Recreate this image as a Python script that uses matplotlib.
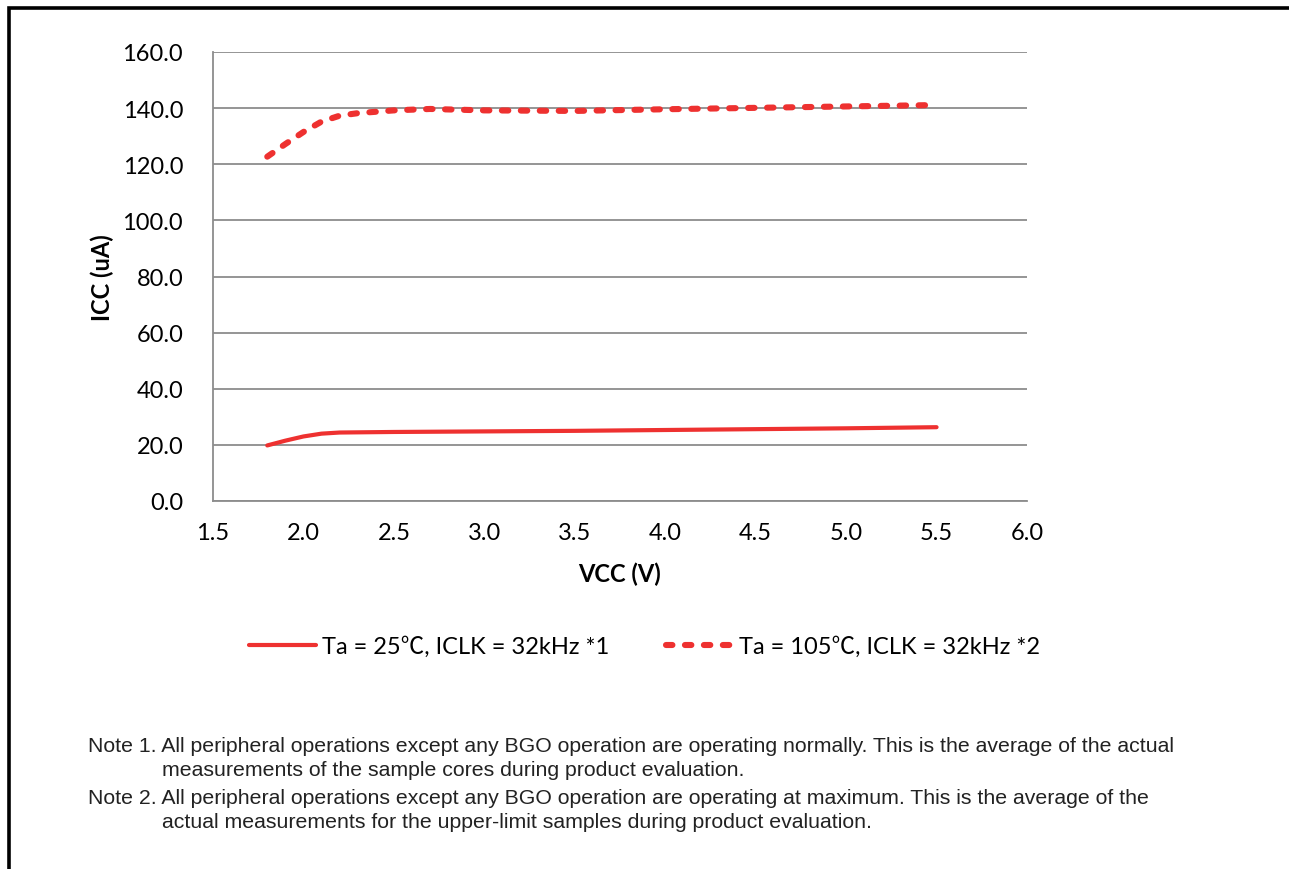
import matplotlib
matplotlib.use("Agg")
import matplotlib.pyplot as plt
from matplotlib.lines import Line2D

# Supply current vs. supply voltage
vcc_25 = [1.8, 1.9, 2.0, 2.1, 2.2, 2.5, 3.0, 3.5, 4.0, 4.5, 5.0, 5.5]
icc_25 = [19.8, 21.5, 23.0, 24.0, 24.4, 24.6, 24.8, 25.0, 25.3, 25.6, 25.9, 26.3]

vcc_105 = [1.8, 1.9, 2.0, 2.1, 2.2, 2.3, 2.5, 2.7, 3.0, 3.5, 4.0, 4.5, 5.0, 5.5]
icc_105 = [122.7, 127.2, 131.5, 135.2, 137.3, 138.2, 139.2, 139.7, 139.2, 139.0,
           139.6, 140.1, 140.6, 141.1]

label_25 = "Ta = 25\u2103, ICLK = 32kHz *1"
label_105 = "Ta = 105\u2103, ICLK = 32kHz *2"

x_ticks = [1.5, 2.0, 2.5, 3.0, 3.5, 4.0, 4.5, 5.0, 5.5, 6.0]
y_ticks = [0, 20, 40, 60, 80, 100, 120, 140, 160]

notes = [
    ("Note 1. All peripheral operations except any BGO operation are operating normally. This is the average of the actual",
     "measurements of the sample cores during product evaluation."),
    ("Note 2. All peripheral operations except any BGO operation are operating at maximum. This is the average of the",
     "actual measurements for the upper-limit samples during product evaluation."),
]

RED = "#EE3130"
GRID = "#8C8C8C"
UI_FONT = ["Lato", "Noto Sans CJK JP", "DejaVu Sans"]
NOTE_FONT = ["Liberation Sans", "DejaVu Sans"]

W, H = 1289, 870
fig = plt.figure(figsize=(W / 100, H / 100), dpi=100)
fig.patch.set_facecolor("white")

ax = fig.add_axes([213 / W, 1 - 502 / H, (1027 - 213) / W, (502 - 53) / H])
ax.plot(vcc_25, icc_25, color=RED, lw=3.0, solid_capstyle="round",
        solid_joinstyle="round", label=label_25)
ax.plot(vcc_105, icc_105, color=RED, lw=4.4, dashes=(1.05, 2.05),
        dash_capstyle="round", label=label_105)

ax.set_xlim(1.5, 6.0)
ax.set_ylim(0, 160)
ax.set_xticks(x_ticks)
ax.set_yticks(y_ticks)
ax.set_xticklabels([f"{v:.1f}" for v in x_ticks], family=UI_FONT, fontsize=17)
ax.set_yticklabels([f"{v:.1f}" for v in y_ticks], family=UI_FONT, fontsize=17)
ax.tick_params(axis="x", length=0, pad=15)
ax.tick_params(axis="y", length=0, pad=21.5)
ax.grid(axis="y", color=GRID, lw=1.3)
ax.set_axisbelow(True)
for side in ("top", "right"):
    ax.spines[side].set_visible(False)
for side in ("left", "bottom"):
    ax.spines[side].set_color(GRID)
    ax.spines[side].set_linewidth(1.3)

ax.set_xlabel("VCC (V)", family=UI_FONT, fontsize=17, fontweight="bold", labelpad=13.5)
ax.set_ylabel("ICC (uA)", family=UI_FONT, fontsize=17, fontweight="bold", labelpad=6)

leg = fig.legend(loc="center", bbox_to_anchor=(0.5, 1 - 647 / H), ncol=2,
                 frameon=False, prop={"family": UI_FONT, "size": 17},
                 handlelength=2.84, handletextpad=0.25, columnspacing=2.4)

# notes under the chart
y0 = 747
for first, second in notes:
    fig.text(88 / W, 1 - y0 / H, first, family=NOTE_FONT, fontsize=15.35, va="center",
             color="#222222")
    fig.text(162 / W, 1 - (y0 + 24) / H, second, family=NOTE_FONT, fontsize=15.35,
             va="center", color="#222222")
    y0 += 52

# outer frame (top and left edges)
bx, by = 8.5 / W, 1 - 8.5 / H
fig.add_artist(Line2D([bx, bx, 1.0], [0.0, by, by], transform=fig.transFigure,
                      color="black", lw=2.6, solid_joinstyle="miter"))

fig.savefig("out.png", dpi=100, facecolor="white")
